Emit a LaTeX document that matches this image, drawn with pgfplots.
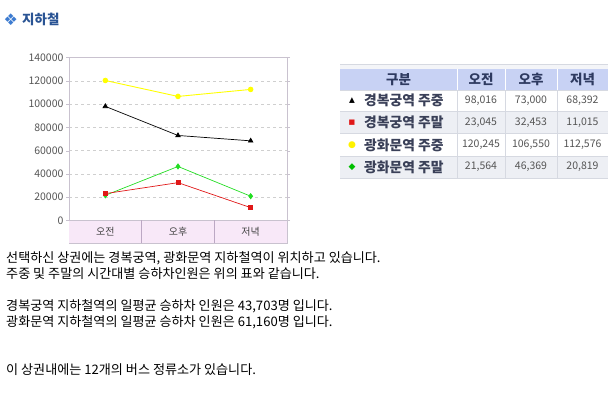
\documentclass[border=0pt]{standalone}
\usepackage{fontspec}
\usepackage{pgfplots}
\pgfplotsset{compat=1.18}
\setmainfont{Noto Sans CJK KR}
\newfontfamily\dejavu{DejaVu Sans}
\definecolor{titleblue}{HTML}{3C7BD0}
\definecolor{titlenavy}{HTML}{2A5494}
\definecolor{framec}{HTML}{C9C2CF}
\definecolor{gridc}{HTML}{CFCFCF}
\definecolor{bandc}{HTML}{F8E8F8}
\definecolor{sepc}{HTML}{BCA8C4}
\definecolor{ticklab}{HTML}{555555}
\definecolor{catc}{HTML}{444444}
\definecolor{redc}{HTML}{E01818}
\definecolor{yellowc}{HTML}{FFFF00}
\definecolor{greenc}{HTML}{22DD22}
\definecolor{headc}{HTML}{C8D2F4}
\definecolor{headtext}{HTML}{2E3A60}
\definecolor{rowalt}{HTML}{EDEFF4}
\definecolor{tline}{HTML}{D6D9E1}
\definecolor{ttext}{HTML}{3A4058}
\definecolor{numc}{HTML}{555555}
\begin{document}
\begin{tikzpicture}[x=1pt,y=1pt]
\path[use as bounding box] (0,0) rectangle (609,392);
% title
\node[anchor=west, text=titleblue, inner sep=0] at (3.5,372.5) {\dejavu\fontsize{16}{16}\selectfont ❖};
\node[anchor=west, text=titlenavy, inner sep=0, font=\bfseries\fontsize{13.5}{14}\selectfont] at (22,373) {지하철};
% chart
\begin{scope}[shift={(69pt,149pt)}]
\begin{axis}[at={(0pt,0pt)}, anchor=south west, scale only axis,
  width=218pt, height=185.5pt,
  xmin=0, xmax=3, ymin=-19400, ymax=140000,
  axis line style={draw=framec},
  xtick=\empty,
  ytick={0,20000,40000,60000,80000,100000,120000,140000},
  yticklabels={0,20000,40000,60000,80000,100000,120000,140000},
  scaled y ticks=false,
  yticklabel style={text=ticklab, font=\fontsize{10.5}{12}\selectfont, xshift=1pt},
  ymajorgrids, grid style={dashed, draw=gridc},
  tick style={draw=framec}, major tick length=3pt, tick align=outside,
  clip=false]
\fill[bandc] (axis cs:0,-19400) rectangle (axis cs:3,0);
\draw[framec] (axis cs:0,0) -- (axis cs:3,0);
\draw[sepc] (axis cs:1,-19400) -- (axis cs:1,0);
\draw[sepc] (axis cs:2,-19400) -- (axis cs:2,0);
\node[text=catc, font=\fontsize{10}{12}\selectfont] at (axis cs:0.5,-9700) {오전};
\node[text=catc, font=\fontsize{10}{12}\selectfont] at (axis cs:1.5,-9700) {오후};
\node[text=catc, font=\fontsize{10}{12}\selectfont] at (axis cs:2.5,-9700) {저녁};
\addplot[color=yellowc, line width=0.9pt, mark=*, mark size=2.3pt, mark options={fill=yellowc}] coordinates {(0.5,120245) (1.5,106550) (2.5,112576)};
\addplot[color=black, line width=0.7pt, mark=triangle*, mark size=2.6pt] coordinates {(0.5,98016) (1.5,73000) (2.5,68392)};
\addplot[color=greenc, line width=0.7pt, mark=diamond*, mark size=2.6pt] coordinates {(0.5,21564) (1.5,46369) (2.5,20819)};
\addplot[color=redc, line width=0.7pt, mark=square*, mark size=1.9pt] coordinates {(0.5,23045) (1.5,32453) (2.5,11015)};
\end{axis}
\end{scope}
% table (pixel y -> 392-y)
\fill[rowalt!60] (340,392-64) rectangle (608,392-69);
\draw[tline] (340,392-64.5) -- (608,392-64.5);
\fill[headc] (340,392-69) rectangle (608,392-90);
\fill[white] (340,392-90) rectangle (608,392-111.5);
\fill[rowalt] (340,392-111.5) rectangle (608,392-133.5);
\fill[white] (340,392-133.5) rectangle (608,392-156);
\fill[rowalt] (340,392-156) rectangle (608,392-178);
\foreach \yy in {90,111.5,133.5,156,178} {\draw[tline] (340,392-\yy) -- (608,392-\yy);}
\foreach \xx in {457,505,557} {\draw[white, line width=1pt] (\xx,392-69) -- (\xx,392-90); \draw[tline] (\xx,392-90) -- (\xx,392-178);}
\begin{scope}[every node/.style={inner sep=0}]
\node[text=headtext, font=\bfseries\fontsize{13.5}{14}\selectfont] at (398.5,392-79.5) {구분};
\node[text=headtext, font=\bfseries\fontsize{13.5}{14}\selectfont] at (481,392-79.5) {오전};
\node[text=headtext, font=\bfseries\fontsize{13.5}{14}\selectfont] at (531,392-79.5) {오후};
\node[text=headtext, font=\bfseries\fontsize{13.5}{14}\selectfont] at (582.5,392-79.5) {저녁};
% row labels
\node[text=black] at (352,392-100.5) {\dejavu\fontsize{7.5}{8}\selectfont ▲};
\node[text=redc] at (352,392-122.5) {\dejavu\fontsize{7}{8}\selectfont ■};
\node[text=yellowc!90!orange] at (352,392-145) {\dejavu\fontsize{9}{9}\selectfont ●};
\node[text=green!75!black] at (352,392-167) {\dejavu\fontsize{9}{9}\selectfont ◆};
\node[anchor=west, text=ttext, font=\bfseries\fontsize{13.8}{14}\selectfont] at (364,392-100.5) {경복궁역 주중};
\node[anchor=west, text=ttext, font=\bfseries\fontsize{13.8}{14}\selectfont] at (364,392-122.5) {경복궁역 주말};
\node[anchor=west, text=ttext, font=\bfseries\fontsize{13.8}{14}\selectfont] at (364,392-145) {광화문역 주중};
\node[anchor=west, text=ttext, font=\bfseries\fontsize{13.8}{14}\selectfont] at (364,392-167) {광화문역 주말};
% numbers
\node[text=numc, font=\fontsize{10.5}{12}\selectfont] at (481,392-100.5) {98,016};
\node[text=numc, font=\fontsize{10.5}{12}\selectfont] at (531,392-100.5) {73,000};
\node[text=numc, font=\fontsize{10.5}{12}\selectfont] at (582.5,392-100.5) {68,392};
\node[text=numc, font=\fontsize{10.5}{12}\selectfont] at (481,392-122.5) {23,045};
\node[text=numc, font=\fontsize{10.5}{12}\selectfont] at (531,392-122.5) {32,453};
\node[text=numc, font=\fontsize{10.5}{12}\selectfont] at (582.5,392-122.5) {11,015};
\node[text=numc, font=\fontsize{10.5}{12}\selectfont] at (481,392-145) {120,245};
\node[text=numc, font=\fontsize{10.5}{12}\selectfont] at (531,392-145) {106,550};
\node[text=numc, font=\fontsize{10.5}{12}\selectfont] at (582.5,392-145) {112,576};
\node[text=numc, font=\fontsize{10.5}{12}\selectfont] at (481,392-167) {21,564};
\node[text=numc, font=\fontsize{10.5}{12}\selectfont] at (531,392-167) {46,369};
\node[text=numc, font=\fontsize{10.5}{12}\selectfont] at (582.5,392-167) {20,819};
% body text
\node[anchor=west, text=black, font=\fontsize{13.1}{14}\selectfont] at (6,392-258) {선택하신 상권에는 경복궁역, 광화문역 지하철역이 위치하고 있습니다.};
\node[anchor=west, text=black, font=\fontsize{13.1}{14}\selectfont] at (6,392-274) {주중 및 주말의 시간대별 승하차인원은 위의 표와 같습니다.};
\node[anchor=west, text=black, font=\fontsize{13.1}{14}\selectfont] at (6,392-306) {경복궁역 지하철역의 일평균 승하차 인원은 43,703명 입니다.};
\node[anchor=west, text=black, font=\fontsize{13.1}{14}\selectfont] at (6,392-322) {광화문역 지하철역의 일평균 승하차 인원은 61,160명 입니다.};
\node[anchor=west, text=black, font=\fontsize{13.1}{14}\selectfont] at (6,392-370) {이 상권내에는 12개의 버스 정류소가 있습니다.};
\end{scope}
\end{tikzpicture}
\end{document}
